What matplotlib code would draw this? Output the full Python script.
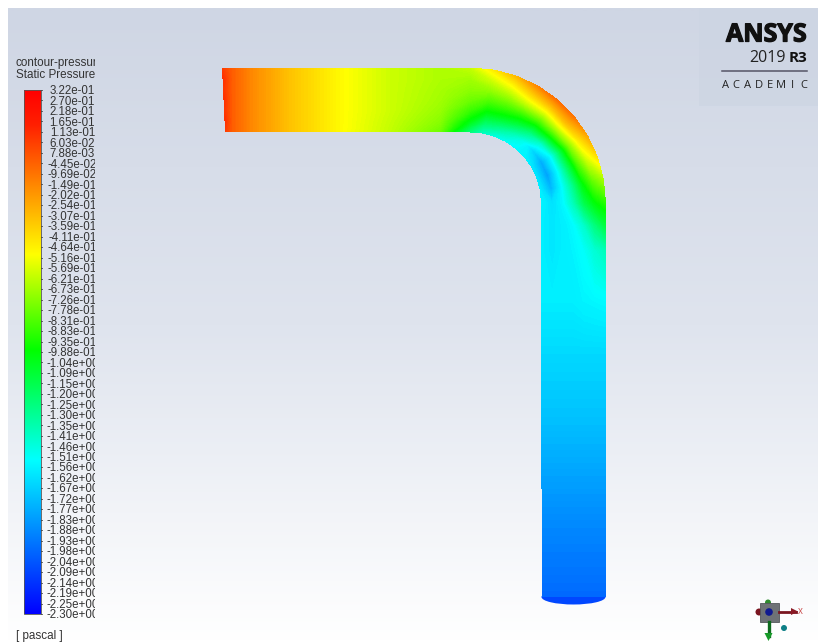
import numpy as np
import matplotlib
matplotlib.use("Agg")
import matplotlib.pyplot as plt
import matplotlib.patheffects as pe
from matplotlib.colors import LinearSegmentedColormap, Normalize
from matplotlib.patches import Rectangle, Circle, Polygon, Ellipse

# ---- data ----
tick_labels = ["3.22e-01","2.70e-01","2.18e-01","1.65e-01","1.13e-01","6.03e-02","7.88e-03",
 "-4.45e-02","-9.69e-02","-1.49e-01","-2.02e-01","-2.54e-01","-3.07e-01","-3.59e-01","-4.11e-01",
 "-4.64e-01","-5.16e-01","-5.69e-01","-6.21e-01","-6.73e-01","-7.26e-01","-7.78e-01","-8.31e-01",
 "-8.83e-01","-9.35e-01","-9.88e-01","-1.04e+00","-1.09e+00","-1.15e+00","-1.20e+00","-1.25e+00",
 "-1.30e+00","-1.35e+00","-1.41e+00","-1.46e+00","-1.51e+00","-1.56e+00","-1.62e+00","-1.67e+00",
 "-1.72e+00","-1.77e+00","-1.83e+00","-1.88e+00","-1.93e+00","-1.98e+00","-2.04e+00","-2.09e+00",
 "-2.14e+00","-2.19e+00","-2.25e+00","-2.30e+00"]
p_max = 0.322
p_min = -2.30

# stations along the pipe, columns run outer wall -> inner wall
straight_x = [224, 232, 250, 290, 340, 390, 440, 470]
straight_p = [
 [ 0.06, 0.10, 0.08, 0.10, 0.08, 0.10, 0.06],
 [-0.03,-0.03,-0.03,-0.03,-0.03,-0.03,-0.03],
 [-0.15,-0.15,-0.15,-0.15,-0.15,-0.15,-0.15],
 [-0.33,-0.33,-0.33,-0.33,-0.33,-0.33,-0.33],
 [-0.49,-0.49,-0.49,-0.49,-0.49,-0.49,-0.49],
 [-0.60,-0.60,-0.60,-0.60,-0.60,-0.61,-0.62],
 [-0.66,-0.66,-0.67,-0.68,-0.70,-0.73,-0.78],
 [-0.62,-0.68,-0.72,-0.78,-0.88,-1.02,-1.25],
]
bend_deg = [10, 20, 30, 40, 50, 60, 70, 80, 90]
bend_p = [
 [-0.45,-0.60,-0.72,-0.85,-1.00,-1.20,-1.40],
 [-0.30,-0.50,-0.68,-0.85,-1.02,-1.25,-1.48],
 [-0.15,-0.38,-0.62,-0.88,-1.10,-1.35,-1.52],
 [-0.08,-0.35,-0.65,-0.95,-1.25,-1.48,-1.55],
 [-0.10,-0.32,-0.65,-1.00,-1.42,-1.65,-1.56],
 [-0.25,-0.45,-0.75,-1.15,-1.55,-1.78,-1.60],
 [-0.42,-0.60,-0.85,-1.20,-1.55,-1.82,-1.60],
 [-0.68,-0.80,-1.00,-1.30,-1.55,-1.75,-1.58],
 [-0.92,-1.00,-1.15,-1.38,-1.55,-1.62,-1.56],
]
vertical_y = [225, 250, 300, 350, 420, 520, 597]
vertical_p = [
 [-1.12,-1.25,-1.42,-1.54,-1.58,-1.60,-1.58],
 [-1.38,-1.44,-1.52,-1.56,-1.58,-1.60,-1.58],
 [-1.54,-1.55,-1.56,-1.58,-1.58,-1.58,-1.58],
 [-1.64,-1.64,-1.64,-1.64,-1.64,-1.64,-1.64],
 [-1.72,-1.72,-1.72,-1.72,-1.72,-1.72,-1.72],
 [-1.88,-1.88,-1.88,-1.88,-1.88,-1.88,-1.88],
 [-1.98,-1.98,-1.98,-1.98,-1.98,-1.98,-1.98],
]
outlet_p = -2.08
cmap_pos = [-2.30, -1.53, -0.98, -0.50, 0.15, 0.322]
cmap_col = ["#0000ff", "#00ffff", "#00ff00", "#ffff00", "#ff2000", "#ff0000"]

# ---- figure in pixel coordinates ----
W, H = 818, 643
fig = plt.figure(figsize=(W/100, H/100), dpi=100)
ax = fig.add_axes([0, 0, 1, 1])
ax.set_xlim(0, W); ax.set_ylim(H, 0); ax.axis("off")
plt.rcParams["font.family"] = ["Liberation Sans", "DejaVu Sans"]

# background gradient
bg = LinearSegmentedColormap.from_list("bg", ["#cfd6e4", "#dfe4ee", "#ffffff"])
ax.imshow(np.linspace(0, 1, 300)[:, None], cmap=bg, extent=(8, W, H, 8), aspect="auto", zorder=0)
ax.add_patch(Rectangle((699, 8), W-699, 98, fc="#cdd5e3", ec="none", alpha=0.7, zorder=0.5))
ax.set_xlim(0, W); ax.set_ylim(H, 0)

# colour scale
norm = Normalize(p_min, p_max)
rainbow = LinearSegmentedColormap.from_list(
    "fluent", [((v-p_min)/(p_max-p_min), c) for v, c in zip(cmap_pos, cmap_col)], N=512)

# pipe mesh
top, bot, left_r, right_r = 68.0, 132.0, 541.5, 605.5
R = 135.0
cx, cy = right_r - R, top + R
across = np.linspace(0, 1, 7)
Xs, Ys = [], []
for i, x in enumerate(straight_x):
    skew = (-1.5 + 3*across) if i == 0 else 0*across
    Xs.append(x + skew); Ys.append(top + (bot-top)*across)
for a in bend_deg:
    r = R - (bot-top)*across
    Xs.append(cx + r*np.sin(np.radians(a))); Ys.append(cy - r*np.cos(np.radians(a)))
for y in vertical_y:
    Xs.append(right_r - (right_r-left_r)*across)
    Ys.append(y + 0*across)
X, Y = np.array(Xs), np.array(Ys)
Z = np.array(straight_p + bend_p + vertical_p)
ax.add_patch(Ellipse(((left_r+right_r)/2, vertical_y[-1]), right_r-left_r, 15,
                     fc=rainbow(norm(outlet_p)), ec="none", zorder=1.5))
ax.contourf(X, Y, Z, levels=np.linspace(p_min, p_max, 257), cmap=rainbow, norm=norm, zorder=2)

# colour bar
bx0, bx1, by0, by1 = 23.5, 40.5, 90.0, 614.0
ax.imshow(np.linspace(p_max, p_min, 512)[:, None], cmap=rainbow, norm=norm,
          extent=(bx0, bx1, by1, by0), aspect="auto", zorder=2)
ax.set_xlim(0, W); ax.set_ylim(H, 0)
ax.add_patch(Rectangle((bx0, by0), bx1-bx0, by1-by0, fc="none", ec="#555555", lw=0.6, zorder=3))
ys = np.linspace(by0, by1, len(tick_labels))
clip = Rectangle((0, 0), 95.3, H, transform=ax.transData)
for y, lab in zip(ys, tick_labels):
    ax.plot([bx1, bx1+1.8], [y, y], color="#444444", lw=0.6, zorder=3)
    t = ax.text(72.3, y+1.2, lab, ha="center", va="center", fontsize=8.3, color="#333333", zorder=4)
    t.set_clip_path(clip); t.set_clip_on(True)
for txt, y in [("contour-pressure-1", 63), ("Static Pressure", 75.5)]:
    t = ax.text(16, y, txt, ha="left", va="center", fontsize=8.4, color="#333333", zorder=4)
    t.set_clip_path(clip); t.set_clip_on(True)
ax.text(16, 636.5, "[ pascal ]", ha="left", va="center", fontsize=8.4, color="#333333", zorder=4)

# logo
ax.text(807, 35, "ANSYS", ha="right", va="center", fontsize=18, fontweight="bold",
        family=["Open Sans", "DejaVu Sans"], color="#111111", zorder=4,
        path_effects=[pe.withStroke(linewidth=0.9, foreground="#111111")])
ax.text(785.5, 57.5, "2019", ha="right", va="center", fontsize=11.5,
        family=["Open Sans", "DejaVu Sans"], color="#222222", zorder=4)
ax.text(807, 57.5, "R3", ha="right", va="center", fontsize=11, fontweight="bold",
        family=["Open Sans", "DejaVu Sans"], color="#111111", zorder=4)
ax.plot([722, 807], [71, 71], color="#555566", lw=1.1, zorder=4)
for ch, x in zip("ACADEMIC", np.linspace(725, 804, 8)):
    ax.text(x, 85.5, ch, ha="center", va="center", fontsize=8,
            family=["Open Sans", "DejaVu Sans"], color="#222222", zorder=4)

# orientation triad
ax.add_patch(Circle((759, 612), 3.5, fc="#7a1520", ec="none", zorder=3))
ax.add_patch(Circle((768, 602.5), 3, fc="#2e8b2e", ec="none", zorder=3))
ax.add_patch(Rectangle((760, 603), 19, 19, fc="#6e7276", ec="#55585c", lw=0.6, zorder=4))
ax.add_patch(Circle((769, 612), 3.8, fc="#101a90", ec="none", zorder=5))
ax.add_patch(Circle((784, 628), 3, fc="#0f7f86", ec="none", zorder=4))
ax.plot([779, 796], [611.5, 611.5], color="#7a1520", lw=2, zorder=4)
ax.add_patch(Polygon([[791, 608], [798, 611.5], [791, 615]], fc="#8a1a25", ec="none", zorder=4))
ax.text(800, 611, "x", ha="center", va="center", fontsize=7, color="#cc5555", zorder=4)
ax.plot([768.5, 768.5], [622, 636], color="#0e6b1e", lw=2.4, zorder=4)
ax.add_patch(Polygon([[764.5, 633], [772.5, 633], [768.5, 641]], fc="#169a28", ec="none", zorder=4))

fig.savefig("out.png", dpi=100, facecolor="white")
